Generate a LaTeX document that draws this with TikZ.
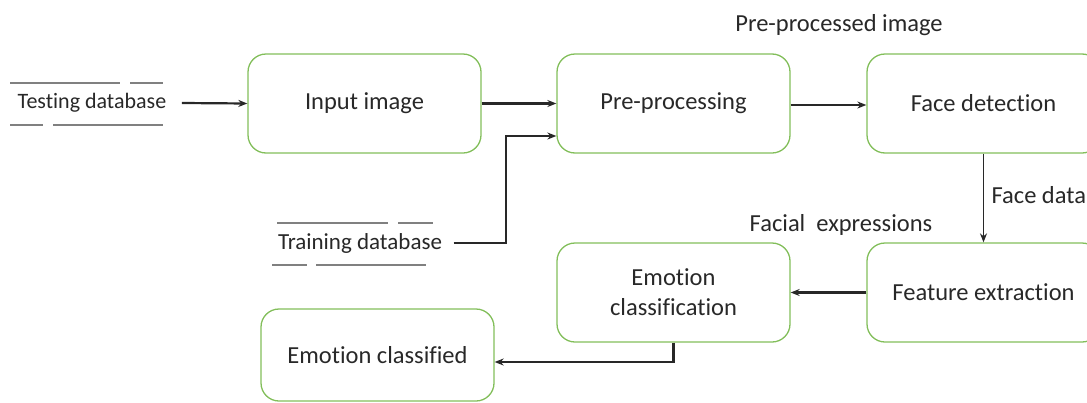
\documentclass[tikz,border=0pt]{standalone}
\usepackage{fontspec}
\setmainfont[RawFeature=-liga]{Carlito}
\usetikzlibrary{arrows.meta,calc}
\definecolor{boxgreen}{RGB}{130,190,90}
\definecolor{txt}{RGB}{40,40,40}
\begin{document}
\begin{tikzpicture}[x=1pt,y=-1pt,
  box/.style={draw=boxgreen, line width=1.3pt, rounded corners=18pt, minimum width=233pt, minimum height=99pt, font=\fontsize{24.5}{30}\selectfont, text=txt, align=center},
  arr/.style={line width=2.2pt, draw=txt, -{Stealth[length=9pt,width=7pt]}},
  lbl/.style={font=\fontsize{24.5}{30}\selectfont, text=txt},
  db/.style={font=\fontsize{22}{26}\selectfont, text=txt},
  rulel/.style={line width=1.5pt, draw=gray}]
\useasboundingbox (0,0) rectangle (1087,402);
\clip (0,0) rectangle (1087,402);
\node[box] (input) at (364.5,103.5) {Input image};
\node[box] (pre) at (673.5,103.5) {Pre-processing};
\node[box] (face) at (983.5,103.5) {Face detection};
\node[box] (feat) at (983.5,292.5) {Feature extraction};
\node[box] (ecls) at (673.5,292.5) {Emotion\\classification};
\node[box, minimum height=92pt] (ecld) at (377.5,355) {Emotion classified};
\node[lbl] (ppi) at (839,25) {Pre-processed image};
\node[lbl, anchor=west] (fd) at (988,195) {Face data};
\node[lbl] (fe) at (841,225) {Facial\ \ expressions};
\node[db] (test) at (92,103) {Testing database};
\node[db, font=\fontsize{23}{27}\selectfont] (train) at (360,243) {Training database};
\draw[rulel] (10,83) -- (120,83);
\draw[rulel] (130,83) -- (163,83);
\draw[rulel] (10,125) -- (43,125);
\draw[rulel] (53,125) -- (163,125);
\draw[rulel] (277,223) -- (388,223);
\draw[rulel] (398,223) -- (433,223);
\draw[rulel] (272,265) -- (307,265);
\draw[rulel] (316,265) -- (426,265);
\draw[arr] ([xshift=12pt]test.east) -- (input.west);
\draw[arr] (input.east) -- (pre.west);
\draw[arr] ([yshift=-1.5pt]pre.east) -- ([yshift=-1.5pt]face.west);
\draw[arr, line width=1.3pt] (face.south) -- (feat.north);
\draw[arr] (feat.west) -- (ecls.east);
\coordinate (tj) at (506,136);
\draw[arr] ([xshift=8pt]train.east) -| (tj) -- (tj -| pre.west);
\draw[arr] (ecls.south) |- ([yshift=-7pt]ecld.east);
\end{tikzpicture}
\end{document}
